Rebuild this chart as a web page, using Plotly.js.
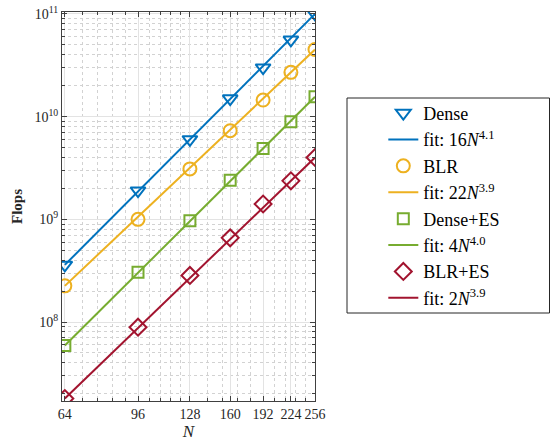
<!DOCTYPE html>
<html>
<head>
<meta charset="utf-8">
<script src="https://cdn.plot.ly/plotly-3.0.1.min.js"></script>
<style>
  html, body { margin: 0; padding: 0; background: #fff; }
  #chart { width: 550px; height: 441px; }
</style>
</head>
<body>
<div id="chart"></div>
<script>
// ---- data ----
const N = [64, 96, 128, 160, 192, 224, 256];
const dense   = [3.6e8, 1.9e9, 6.0e9, 1.5e10, 3.0e10, 5.6e10, 1.0e11];
const blr     = [2.25e8, 1.0e9, 3.1e9, 7.3e9, 1.45e10, 2.7e10, 4.5e10];
const denseES = [5.9e7, 3.05e8, 9.7e8, 2.4e9, 4.9e9, 8.9e9, 1.56e10];
const blrES   = [1.8e7, 8.9e7, 2.84e8, 6.6e8, 1.41e9, 2.37e9, 4.0e9];

// fitted lines (straight in log-log), end points
const fitN        = [64, 256];
const fitDense    = [3.6e8, 1.0e11];
const fitBLR      = [2.25e8, 4.5e10];
const fitDenseES  = [5.9e7, 1.56e10];
const fitBLRES    = [1.8e7, 4.0e9];

const xTickVals = [64, 96, 128, 160, 192, 224, 256];
const xTickText = ['64', '96', '128', '160', '192', '224', '256'];
const yTickVals = [1e8, 1e9, 1e10, 1e11];
const yTickText = ['10<sup>8</sup>', '10<sup>9</sup>', '10<sup>10</sup>', '10<sup>11</sup>'];

const names = ['Dense', 'fit: 16<i>N</i><sup>4.1</sup>',
               'BLR', 'fit: 22<i>N</i><sup>3.9</sup>',
               'Dense+ES', 'fit: 4<i>N</i><sup>4.0</sup>',
               'BLR+ES', 'fit: 2<i>N</i><sup>3.9</sup>'];

// ---- styling ----
const colors = ['#0072BD', '#EDB120', '#77AC30', '#A2142F'];
const symbols = ['triangle-down-open', 'circle-open', 'square-open', 'diamond-open'];
const msizes = [13, 13, 11, 13];
const series = [dense, blr, denseES, blrES];
const fits = [fitDense, fitBLR, fitDenseES, fitBLRES];

const traces = [];
for (let i = 0; i < 4; i++) {
  traces.push({
    x: N, y: series[i], type: 'scatter', mode: 'markers', name: names[2 * i],
    marker: { symbol: symbols[i], size: msizes[i], color: colors[i], line: { width: 2, color: colors[i] } },
    legendrank: 10 * i + 1
  });
  traces.push({
    x: fitN, y: fits[i], type: 'scatter', mode: 'lines', name: names[2 * i + 1],
    line: { color: colors[i], width: 2 },
    legendrank: 10 * i + 2
  });
}

// minor x grid as in the reference (tenths of each octave start)
const xMinor = [];
[64, 128].forEach(b => { for (let k = 1; k <= 9; k++) xMinor.push(b * (1 + k / 10)); });
const yMinor = [];
[1e7, 1e8, 1e9, 1e10].forEach(b => { for (let k = 2; k <= 9; k++) yMinor.push(b * k); });

const axisCommon = {
  type: 'log', showline: true, linecolor: '#404040', linewidth: 1, mirror: 'allticks',
  ticks: 'inside', ticklen: 5, tickcolor: '#404040', tickwidth: 1,
  showgrid: true, gridcolor: '#e3e3e3', gridwidth: 1, zeroline: false,
  tickfont: { family: 'Liberation Serif, serif', size: 14, color: '#262626' }
};

const layout = {
  width: 550, height: 441,
  margin: { l: 62, r: 235, t: 12, b: 40 },
  paper_bgcolor: '#fff', plot_bgcolor: '#fff',
  showlegend: true,
  xaxis: Object.assign({}, axisCommon, {
    range: [Math.log10(63.0), Math.log10(256)],
    tickmode: 'array', tickvals: xTickVals, ticktext: xTickText, tickangle: 0,
    minor: { tickmode: 'array', tickvals: xMinor, ticks: 'inside', ticklen: 3, tickcolor: '#404040',
             showgrid: true, gridcolor: '#d2d2d2', griddash: 'dot', gridwidth: 1 },
    title: { text: '<i>N</i>', font: { family: 'Liberation Serif, serif', size: 17, color: '#262626' }, standoff: 2 }
  }),
  yaxis: Object.assign({}, axisCommon, {
    range: [7.231, 11.019],
    tickmode: 'array', tickvals: yTickVals, ticktext: yTickText,
    minor: { tickmode: 'array', tickvals: yMinor, ticks: 'inside', ticklen: 3, tickcolor: '#404040',
             showgrid: true, gridcolor: '#d2d2d2', griddash: 'dot', gridwidth: 1 },
    title: { text: '<b>Flops</b>', font: { family: 'Liberation Serif, serif', size: 15, color: '#262626' }, standoff: 8 }
  }),
  legend: {
    x: 1.27, xanchor: 'left', y: 0.787, yanchor: 'top',
    bgcolor: 'rgba(0,0,0,0)', borderwidth: 0,
    font: { family: 'Liberation Serif, serif', size: 18, color: '#000' },
    traceorder: 'normal', tracegroupgap: 0
  },
  shapes: [{
    type: 'rect', xref: 'paper', yref: 'paper',
    x0: (347 - 62) / 253, x1: (549.5 - 62) / 253,
    y0: (401 - 313) / 389, y1: (401 - 98) / 389,
    line: { color: '#262626', width: 1 }, fillcolor: 'rgba(0,0,0,0)', layer: 'above'
  }]
};

Plotly.newPlot('chart', traces, layout, { staticPlot: true, displayModeBar: false });
</script>
</body>
</html>
